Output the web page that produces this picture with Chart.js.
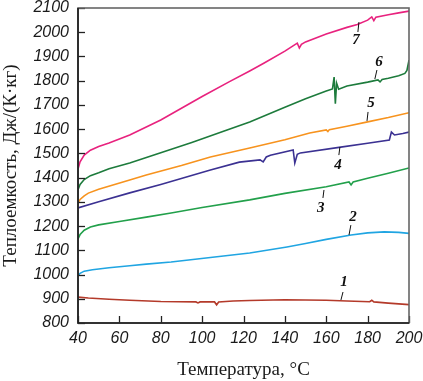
<!DOCTYPE html>
<html>
<head>
<meta charset="utf-8">
<script src="https://cdn.jsdelivr.net/npm/chart.js@4"></script>
<style>
  html, body { margin: 0; padding: 0; background: #fff; }
  #wrap { width: 423px; height: 381px; }
</style>
</head>
<body>
<div id="wrap"><canvas id="cp"></canvas></div>
<script>
// температуры и теплоемкость по кривым 1..7
const t1 = [40, 45, 55, 65, 80, 97, 98, 99, 106, 107, 108, 115, 123, 140, 160, 170, 181, 182, 183, 190, 200];
const c1 = [907, 903, 898, 894, 889, 887, 883, 887, 887, 875, 887, 891, 893, 896, 894, 891, 888, 894, 887, 882, 876];

const t2 = [40, 41, 43, 47, 55, 65, 73, 85, 104, 123, 141, 150, 160, 172, 180, 188, 195, 200];
const c2 = [995, 1005, 1014, 1020, 1028, 1036, 1043, 1052, 1070, 1089, 1114, 1128, 1145, 1163, 1172, 1176, 1174, 1170];

const t3 = [40, 41, 43, 46, 50, 60, 73, 85, 100, 123, 140, 160, 171, 172, 173, 180, 190, 200];
const c3 = [1147, 1165, 1183, 1196, 1205, 1219, 1237, 1254, 1277, 1308, 1335, 1362, 1382, 1370, 1382, 1397, 1418, 1440];

const t4 = [40, 50, 65, 80, 104, 118, 128, 129.5, 131, 133, 144, 144.8, 146, 147.5, 167, 180, 190.5, 191.5, 193, 197, 200];
const c4 = [1275, 1300, 1337, 1372, 1431, 1464, 1473, 1465, 1485, 1492, 1514, 1460, 1496, 1502, 1526, 1542, 1555, 1588, 1576, 1582, 1588];

const t5 = [40, 41, 43, 45, 50, 65, 73, 90, 104, 123, 140, 152, 160, 160.8, 161.5, 170, 180, 190, 200];
const c5 = [1295, 1310, 1325, 1336, 1352, 1390, 1411, 1450, 1485, 1522, 1556, 1584, 1597, 1590, 1598, 1612, 1630, 1648, 1668];

const t6 = [40, 41, 43, 46, 50, 55, 65, 80, 95, 110, 123, 140, 150, 160, 163, 163.8, 164.4, 165, 166, 170, 180, 185, 186, 187, 190, 195, 198, 199, 200];
const c6 = [1350, 1372, 1392, 1408, 1420, 1437, 1460, 1503, 1545, 1590, 1630, 1690, 1725, 1757, 1766, 1815, 1705, 1790, 1765, 1778, 1794, 1803, 1795, 1805, 1810, 1820, 1830, 1842, 1885];

const t7 = [40, 41, 43, 46, 50, 55, 65, 80, 100, 113, 123, 130, 140, 146, 147, 148, 150, 160, 170, 175, 180, 182, 183, 184, 190, 195, 200];
const c7 = [1435, 1465, 1493, 1513, 1528, 1543, 1576, 1638, 1735, 1795, 1840, 1873, 1922, 1955, 1935, 1950, 1960, 1993, 2020, 2032, 2050, 2063, 2048, 2062, 2072, 2080, 2087];

const seriesNames = ['1', '2', '3', '4', '5', '6', '7'];
const seriesT = [t1, t2, t3, t4, t5, t6, t7];
const seriesC = [c1, c2, c3, c4, c5, c6, c7];
const colors = ['#b43a2a', '#20a5e2', '#22a04b', '#3b3192', '#f7931e', '#1d7b3c', '#e8227e'];

// подписи кривых: точка выноски у кривой, конец выноски, место цифры (в единицах осей)
const labelFrom = [[167.1, 895], [171.0, 1163], [158.9, 1349], [166.6, 1526], [179.7, 1634], [183.5, 1807], [175.8, 2042]];
const labelTo   = [[168.1, 928], [171.9, 1204], [158.4, 1316], [166.1, 1493], [180.2, 1671], [184.5, 1844], [175.3, 2001]];
const labelAt   = [[168.6, 969], [172.9, 1237], [157.4, 1275], [165.7, 1452], [181.6, 1708], [185.5, 1877], [174.4, 1968]];

const xTicks = [40, 60, 80, 100, 120, 140, 160, 180, 200];
const yTicks = [800, 900, 1000, 1100, 1200, 1300, 1400, 1500, 1600, 1700, 1800, 1900, 2000, 2100];

const datasets = seriesNames.map((name, i) => ({
  label: name,
  data: seriesT[i].map((t, k) => ({ x: t, y: seriesC[i][k] })),
  borderColor: colors[i],
  borderWidth: 1.6,
  pointRadius: 0,
  fill: false,
  tension: 0
}));

// рамка, внутренние засечки и подписи кривых
const frameAndLabels = {
  id: 'frameAndLabels',
  afterDatasetsDraw(chart) {
    const { ctx, chartArea: a, scales: { x, y } } = chart;
    ctx.save();
    ctx.lineCap = 'butt';
    ctx.strokeStyle = '#222';
    ctx.lineWidth = 1.3;
    xTicks.forEach(v => {
      const px = Math.round(x.getPixelForValue(v)) + 0.5;
      ctx.beginPath(); ctx.moveTo(px, a.bottom); ctx.lineTo(px, a.bottom - 7); ctx.stroke();
    });
    yTicks.forEach(v => {
      const py = Math.round(y.getPixelForValue(v)) + 0.5;
      ctx.beginPath(); ctx.moveTo(a.left, py); ctx.lineTo(a.left + 7, py); ctx.stroke();
    });
    ctx.lineWidth = 1.6;
    ctx.strokeStyle = '#666';
    ctx.strokeRect(a.left, a.top, a.right - a.left, a.bottom - a.top);
    ctx.strokeStyle = '#1a1a1a';
    ctx.beginPath();
    ctx.moveTo(a.left, a.top); ctx.lineTo(a.left, a.bottom); ctx.lineTo(a.right, a.bottom);
    ctx.stroke();

    ctx.strokeStyle = '#111';
    ctx.lineWidth = 1;
    ctx.fillStyle = '#111';
    ctx.font = 'italic bold 15px "Liberation Serif"';
    ctx.textAlign = 'center';
    ctx.textBaseline = 'middle';
    seriesNames.forEach((name, i) => {
      ctx.beginPath();
      ctx.moveTo(x.getPixelForValue(labelFrom[i][0]), y.getPixelForValue(labelFrom[i][1]));
      ctx.lineTo(x.getPixelForValue(labelTo[i][0]), y.getPixelForValue(labelTo[i][1]));
      ctx.stroke();
      ctx.fillText(name, x.getPixelForValue(labelAt[i][0]), y.getPixelForValue(labelAt[i][1]));
    });
    ctx.restore();
  }
};

const tickFont = { family: '"Liberation Sans", Arial, sans-serif', style: 'italic', size: 16 };
const titleFont = { family: '"Liberation Serif", "Times New Roman", serif', size: 19 };

new Chart(document.getElementById('cp'), {
  type: 'line',
  data: { datasets },
  options: {
    responsive: true,
    maintainAspectRatio: false,
    animation: false,
    layout: { padding: { top: 8, right: 14, bottom: 0, left: 0 } },
    plugins: { legend: { display: false }, tooltip: { enabled: false } },
    scales: {
      x: {
        type: 'linear',
        min: 40,
        max: 200,
        afterBuildTicks: s => { s.ticks = xTicks.map(v => ({ value: v })); },
        afterFit: s => { s.height = 58; s.paddingLeft = 0; s.paddingRight = 0; },
        grid: { display: false, drawTicks: false },
        border: { display: false },
        ticks: {
          padding: 6,
          color: '#1a1a1a',
          font: tickFont,
          callback: v => String(v)
        },
        title: {
          display: true,
          text: 'Температура, °C',
          color: '#1a1a1a',
          padding: { top: 11, bottom: 0 },
          font: titleFont
        }
      },
      y: {
        min: 800,
        max: 2100,
        afterBuildTicks: s => { s.ticks = yTicks.map(v => ({ value: v })); },
        afterFit: s => { s.width = 78; s.paddingTop = 0; s.paddingBottom = 0; },
        grid: { display: false, drawTicks: false },
        border: { display: false },
        ticks: {
          padding: 9,
          color: '#1a1a1a',
          font: tickFont,
          callback: v => String(v)
        },
        title: {
          display: true,
          text: 'Теплоемкость, Дж/(К·кг)',
          color: '#1a1a1a',
          padding: { top: 0, bottom: 0 },
          font: titleFont
        }
      }
    }
  },
  plugins: [frameAndLabels]
});
</script>
</body>
</html>
